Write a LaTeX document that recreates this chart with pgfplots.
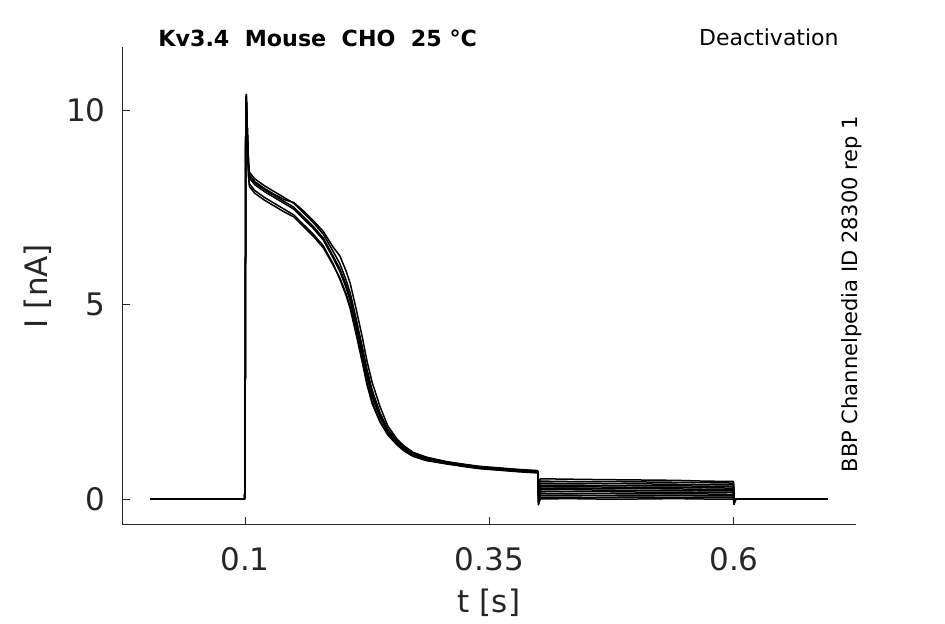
\documentclass[border=0pt]{standalone}
\usepackage{pgfplots}
\usepackage{pgfplotstable}
\pgfplotsset{compat=1.18}
\usepackage{fontspec}
\setmainfont{DejaVu Sans}
\definecolor{tc}{HTML}{262626}

\pgfplotstableread{
t      c1    c2    c3    c4    c5    c6
0.003  0     0     0     0     0     0
0.0995 0     0     0     0     0     0
0.1000 0.3   0.3   0.3   0.3   0.3   0.3
0.1008 10.0  9.9   9.8   10.0  9.7   10.0
0.1013 10.4  10.3  10.2  10.35 10.1  10.4
0.1022 9.6   9.6   9.4   9.6   9.3   9.6
0.1035 8.6   8.7   8.4   8.65  8.3   8.6
0.1045 8.25  8.4   8.1   8.33  8.03  8.3
0.110  8.08  8.23  7.93  8.16  7.86  8.13
0.120  7.9   8.05  7.75  7.98  7.68  7.95
0.130  7.75  7.9   7.6   7.83  7.53  7.8
0.140  7.6   7.75  7.45  7.7   7.38  7.65
0.150  7.45  7.6   7.3   7.62  7.25  7.5
0.160  7.2   7.35  7.05  7.4   7.0   7.25
0.170  6.95  7.1   6.8   7.15  6.75  7.0
0.180  6.66  6.81  6.51  6.88  6.46  6.71
0.190  6.2   6.37  6.05  6.48  6.02  6.25
0.197  5.85  6.05  5.65  6.25  5.68  5.92
0.2035 5.42  5.62  5.22  5.85  5.27  5.5
0.2075 5.1   5.3   4.9   5.55  4.95  5.18
0.2135 4.45  4.65  4.25  4.9   4.3   4.53
0.2196 3.75  3.95  3.55  4.2   3.6   3.83
0.2247 3.14  3.34  2.94  3.55  3.0   3.22
0.2300 2.62  2.8   2.45  3.0   2.5   2.7
0.2380 2.1   2.22  1.98  2.38  2.0   2.16
0.2460 1.72  1.8   1.65  1.88  1.66  1.76
0.2554 1.44  1.5   1.39  1.54  1.4   1.46
0.2630 1.28  1.33  1.23  1.36  1.24  1.3
0.2718 1.14  1.19  1.1   1.2   1.1   1.16
0.2850 1.03  1.07  0.99  1.08  1.0   1.05
0.3065 0.93  0.96  0.9   0.95  0.91  0.94
0.3250 0.86  0.89  0.83  0.88  0.84  0.87
0.3400 0.81  0.84  0.78  0.83  0.79  0.82
0.3600 0.77  0.8   0.74  0.79  0.75  0.78
0.3800 0.73  0.76  0.7   0.75  0.71  0.74
0.3995 0.70  0.73  0.67  0.72  0.68  0.71
}\mainpulse

\pgfplotstableread{
t      l1    l2    l3    l4    l5    l6    l7    l8    l9    l10   l11   l12
0.3995 0.70  0.71  0.69  0.72  0.70  0.68  0.71  0.70  0.73  0.69  0.71  0.70
0.4000 -0.15 -0.10 -0.05 0.02  0.07  0.11  0.15  0.19  0.23  0.28  0.33  0.40
0.4020 0.00  0.05  0.10  0.15  0.20  0.24  0.28  0.32  0.36  0.41  0.46  0.52
0.4300 0.01  0.05  0.10  0.14  0.19  0.24  0.28  0.31  0.36  0.40  0.45  0.51
0.4600 0.00  0.04  0.09  0.14  0.19  0.23  0.27  0.31  0.35  0.40  0.45  0.50
0.5000 0.00  0.05  0.09  0.13  0.18  0.22  0.27  0.30  0.34  0.39  0.44  0.49
0.5400 0.01  0.04  0.09  0.13  0.18  0.22  0.26  0.30  0.34  0.38  0.43  0.48
0.5700 0.00  0.04  0.08  0.13  0.17  0.21  0.25  0.29  0.33  0.37  0.42  0.46
0.5995 0.00  0.04  0.08  0.12  0.17  0.21  0.25  0.28  0.32  0.36  0.41  0.45
0.6000 -0.14 -0.10 -0.10 -0.08 -0.08 -0.06 -0.06 -0.05 -0.05 -0.04 -0.04 -0.03
0.6020 0.00  0.00  0.00  0.00  0.00  0.00  0.00  0.00  0.00  0.00  0.00  0.00
0.6960 0.00  0.00  0.00  0.00  0.00  0.00  0.00  0.00  0.00  0.00  0.00  0.00
}\tail

\begin{document}
\begin{tikzpicture}
\path[use as bounding box] (0,0) rectangle (472.5pt,312pt);
\begin{axis}[
  scale only axis, width=367pt, height=239pt,
  at={(61pt,49.5pt)}, anchor=south west,
  xmin=-0.0258, xmax=0.7248, ymin=-0.668, ymax=11.62,
  axis x line*=bottom, axis y line*=left,
  axis line style={-, tc, line width=0.5pt},
  tick align=inside, major tick length=4pt,
  tick style={tc, line width=0.5pt},
  xtick={0.1,0.35,0.6}, xticklabels={0.1,0.35,0.6},
  ytick={0,5,10}, yticklabels={0,5,10},
  ticklabel style={font=\fontsize{15.5}{18}\selectfont, text=tc, inner sep=0pt},
  xticklabel style={anchor=base, yshift=-23pt},
  yticklabel style={anchor=east, xshift=-8pt},
  xlabel={t [s]},
  label style={font=\fontsize{15.5}{18}\selectfont, text=tc, inner sep=0pt},
  xlabel style={at={(axis description cs:0.5,0)}, anchor=base, yshift=-44pt},
]
\foreach \c in {c1,c2,c3,c4,c5,c6}{
  \addplot[black, no markers, line width=0.75pt, line join=round] table[x=t, y=\c] {\mainpulse};
}
\foreach \c in {l1,l2,l3,l4,l5,l6,l7,l8,l9,l10,l11,l12}{
  \addplot[black, no markers, line width=0.75pt, line join=round] table[x=t, y=\c] {\tail};
}
\end{axis}
\node[anchor=base, rotate=90, inner sep=0pt, text=tc, font=\fontsize{15.5}{18}\selectfont] at (24pt,169pt) {I [nA]};
\node[anchor=base west, inner sep=0pt, font=\fontsize{11.1}{13}\selectfont\bfseries] at (79pt,288.5pt) {Kv3.4\ \ Mouse\ \ CHO\ \ 25~°C};
\node[anchor=base east, inner sep=0pt, font=\fontsize{11}{13}\selectfont] at (419.5pt,289pt) {Deactivation};
\node[anchor=base, rotate=90, inner sep=0pt, font=\fontsize{10.5}{12}\selectfont] at (428.5pt,165pt) {BBP Channelpedia ID 28300 rep 1};
\end{tikzpicture}
\end{document}
